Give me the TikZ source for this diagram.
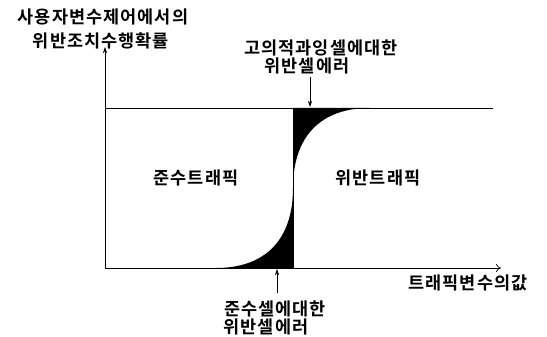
\documentclass[tikz,border=0pt]{standalone}
\usepackage{fontspec}
\newfontfamily\kr[LetterSpace=6,BoldFont={Noto Sans CJK KR Bold}]{Noto Sans CJK KR}
\usetikzlibrary{arrows.meta}
\begin{document}
\begin{tikzpicture}[x=1pt,y=-1pt,
  lbl/.style={font=\kr\bfseries\fontsize{17.5}{20}\selectfont, inner sep=0pt, align=center},
  ax/.style={line width=0.7pt},
  pt/.style={line width=0.7pt,-{Stealth[length=6pt,width=4pt]}}]
\useasboundingbox (0,0) rectangle (547,337);
% coordinates
\coordinate (O) at (105,268);
\coordinate (Ytop) at (105,47);
\coordinate (Xend) at (501,268);
\coordinate (TL) at (105,108);
\coordinate (TR) at (493,108);
\coordinate (Vt) at (293,108);
\coordinate (Vb) at (293,268);
\coordinate (C) at (293,188);
\coordinate (S0) at (216,268);
\coordinate (S1) at (370,108);
\coordinate (A1s) at (310,77);
\coordinate (A1e) at (310,107);
\coordinate (A2s) at (277,293);
\coordinate (A2e) at (277,269);
% black regions
\fill (Vt) -- (C) .. controls (293,136) and (321,108) .. (S1) -- cycle;
\fill (Vb) -- (C) .. controls (293,240) and (265,268) .. (S0) -- cycle;
% axes and lines
\draw[ax,-{Stealth[length=6pt,width=4pt]}] (O) -- (Ytop);
\draw[ax,-{To[length=5pt,width=8pt]}] (O) -- (Xend);
\draw[ax] (TL) -- (TR);
\draw[ax] (Vt) -- (Vb);
% labels
\node[lbl] (ylab1) at (103,17) {사용자변수제어에서의};
\node[lbl] (ylab2) at (101,41) {위반조치수행확률};
\node[lbl] (t1) at (321,48) {고의적과잉셀에대한};
\node[lbl] (t2) at (307,66) {위반셀에러};
\node[lbl] (l) at (196,178) {준수트래픽};
\node[lbl] (r) at (378,178) {위반트래픽};
\node[lbl] (b1) at (275,309) {준수셀에대한};
\node[lbl] (b2) at (266,327) {위반셀에러};
\node[lbl] (xl) at (468,283) {트래픽변수의값};
% pointers
\draw[pt] (A1s) -- (A1e);
\draw[pt] (A2s) -- (A2e);
\end{tikzpicture}
\end{document}
